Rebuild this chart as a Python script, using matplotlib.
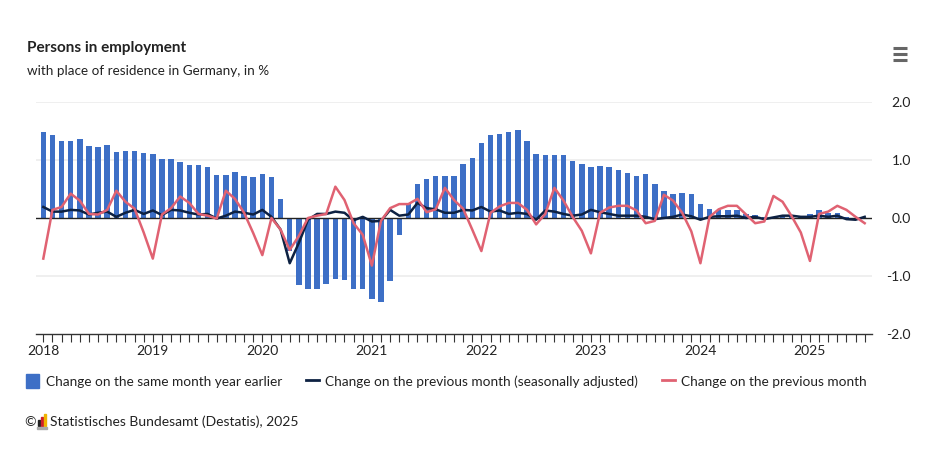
import numpy as np
import matplotlib.pyplot as plt
from matplotlib.lines import Line2D
from matplotlib.patches import Rectangle

plt.rcParams['font.family'] = ['Lato', 'DejaVu Sans']

# monthly data, Jan 2018 .. Jul 2025
years = ['2018', '2019', '2020', '2021', '2022', '2023', '2024', '2025']

yoy = [1.48, 1.43, 1.33, 1.33, 1.36, 1.24, 1.22, 1.26, 1.14, 1.15, 1.15, 1.12,
       1.10, 1.02, 1.02, 0.97, 0.91, 0.91, 0.88, 0.74, 0.74, 0.79, 0.73, 0.71,
       0.76, 0.71, 0.33, -0.57, -1.15, -1.22, -1.22, -1.14, -1.05, -1.07, -1.22, -1.22,
       -1.39, -1.45, -1.09, -0.30, 0.25, 0.59, 0.67, 0.73, 0.73, 0.73, 0.93, 1.03,
       1.29, 1.43, 1.45, 1.48, 1.51, 1.33, 1.10, 1.09, 1.09, 1.09, 0.98, 0.93,
       0.88, 0.90, 0.88, 0.83, 0.78, 0.73, 0.76, 0.59, 0.47, 0.42, 0.43, 0.42,
       0.25, 0.16, 0.14, 0.14, 0.14, 0.07, 0.06, 0.02, 0.02, 0.03, 0.03, 0.02,
       0.07, 0.13, 0.09, 0.09, 0.01, 0.00, -0.01]

mom_sa = [0.19, 0.11, 0.11, 0.14, 0.13, 0.06, 0.09, 0.11, 0.02, 0.09, 0.14, 0.07,
          0.13, 0.05, 0.14, 0.13, 0.09, 0.06, 0.07, -0.01, 0.04, 0.11, 0.09, 0.06,
          0.14, 0.02, -0.20, -0.78, -0.43, -0.03, 0.07, 0.07, 0.11, 0.09, -0.04, 0.02,
          -0.06, -0.05, 0.14, 0.04, 0.06, 0.26, 0.17, 0.15, 0.09, 0.09, 0.14, 0.13,
          0.19, 0.11, 0.13, 0.07, 0.09, 0.07, -0.03, 0.13, 0.11, 0.07, 0.04, 0.06,
          0.14, 0.10, 0.07, 0.04, 0.04, 0.04, 0.02, -0.02, 0.00, 0.02, 0.06, 0.03,
          -0.03, 0.02, 0.03, 0.03, 0.04, 0.00, 0.02, -0.02, 0.01, 0.04, 0.04, 0.02,
          0.02, 0.04, 0.02, 0.04, -0.02, -0.03, 0.02]

mom = [-0.70, 0.14, 0.19, 0.42, 0.30, 0.07, 0.06, 0.14, 0.47, 0.28, 0.16, -0.25,
       -0.70, 0.06, 0.17, 0.37, 0.26, 0.07, 0.04, -0.01, 0.47, 0.33, 0.09, -0.26,
       -0.64, 0.00, -0.20, -0.55, -0.31, 0.00, 0.04, 0.07, 0.54, 0.31, -0.09, -0.29,
       -0.82, -0.05, 0.17, 0.24, 0.24, 0.33, 0.10, 0.15, 0.52, 0.31, 0.16, -0.20,
       -0.57, 0.09, 0.20, 0.26, 0.26, 0.14, -0.11, 0.07, 0.52, 0.30, 0.02, -0.22,
       -0.61, 0.09, 0.18, 0.21, 0.21, 0.13, -0.09, -0.05, 0.40, 0.30, 0.09, -0.23,
       -0.78, 0.02, 0.15, 0.21, 0.21, 0.06, -0.09, -0.06, 0.38, 0.28, 0.03, -0.25,
       -0.74, 0.07, 0.11, 0.21, 0.14, 0.02, -0.09]

labels = ['Change on the same month year earlier',
          'Change on the previous month (seasonally adjusted)',
          'Change on the previous month']

c_bar = '#3d6fc6'
c_sa = '#0d2142'
c_nsa = '#e06272'
txt = '#222222'

x = np.arange(len(mom))

fig = plt.figure(figsize=(9.34, 4.49), dpi=100)
ax = fig.add_axes([36 / 934, 1 - 334 / 449, (872 - 36) / 934, (334 - 102) / 449])

ax.bar(x, yoy, width=0.6, color=c_bar, zorder=2)
ax.axhline(0, color='#222222', lw=1.0, zorder=3)
ax.plot(x, mom_sa, color=c_sa, lw=1.8, zorder=4)
ax.plot(x, mom, color=c_nsa, lw=1.8, zorder=5)

ax.set_xlim(-0.8, len(mom) - 0.2)
ax.set_ylim(-2, 2)

ax.yaxis.tick_right()
ax.set_yticks([2, 1, 0, -1, -2])
ax.set_yticklabels(['2.0', '1.0', '0.0', '-1.0', '-2.0'])
ax.tick_params(axis='y', length=0, pad=28, labelsize=10, labelcolor=txt)
for t in ax.get_yticklabels():
    t.set_horizontalalignment('right')
for v in [2, 1, -1]:
    ax.axhline(v, color='#eeeeee', lw=1.3, zorder=0)

ax.set_xticks(np.arange(0, len(mom), 12))
ax.set_xticklabels(years)
ax.set_xticks(x, minor=True)
ax.tick_params(axis='x', which='both', length=6, width=0.8, color='#333333',
               labelsize=10, labelcolor=txt, pad=2)

for s in ['top', 'left', 'right']:
    ax.spines[s].set_visible(False)
ax.spines['bottom'].set_color('#333333')
ax.spines['bottom'].set_linewidth(1.0)

# titles
fig.text(27 / 934, 1 - 48 / 449, 'Persons in employment', fontsize=11,
         fontweight='bold', color=txt, va='center')
fig.text(27 / 934, 1 - 71 / 449, 'with place of residence in Germany, in %',
         fontsize=9.75, color=txt, va='center')

# legend
handles = [Rectangle((0, 0), 1, 1, color=c_bar),
           Line2D([], [], color=c_sa, lw=2),
           Line2D([], [], color=c_nsa, lw=2)]
fig.legend(handles, labels, ncol=3, loc='center left',
           bbox_to_anchor=(14 / 934, 1 - 381 / 449), frameon=False,
           fontsize=9.85, handlelength=0.95, handleheight=1.1, handletextpad=0.5,
           columnspacing=1.7, labelcolor=txt)

# source
fig.text(24 / 934, 1 - 422 / 449, '\u00a9', fontsize=10, color=txt, va='center')
for i, (h, col) in enumerate([(6, '#222222'), (9, '#d0202a'), (12, '#f0b400')]):
    fig.patches.append(Rectangle(((38 + i * 3) / 934, (449 - 426) / 449),
                                 2 / 934, h / 449, color=col,
                                 transform=fig.transFigure))
fig.patches.append(Rectangle((37 / 934, (449 - 429) / 449), 10 / 934, 2 / 449,
                             color='#aaaaaa', transform=fig.transFigure))
fig.text(50 / 934, 1 - 422 / 449, 'Statistisches Bundesamt (Destatis), 2025',
         fontsize=10, color=txt, va='center')

# menu icon
for dy in [48, 54, 60]:
    fig.add_artist(Line2D([893 / 934, 907 / 934], [1 - dy / 449] * 2,
                          color='#666666', lw=2.2, solid_capstyle='butt'))

fig.savefig('out.png', dpi=100)
